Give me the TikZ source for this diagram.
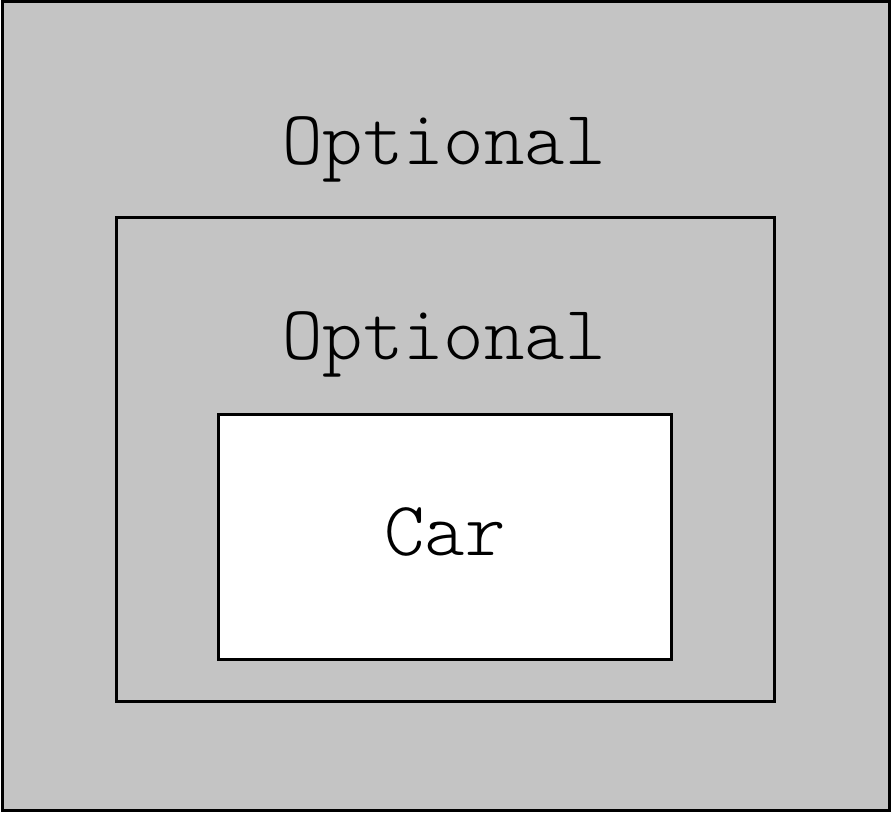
\documentclass[tikz,border=0pt]{standalone}
\usepackage{tikz}
\usetikzlibrary{positioning}
\definecolor{PanelGray}{HTML}{C4C4C4}

\begin{document}
\begin{tikzpicture}[x=0.5pt, y=-0.5pt,
        frame/.style={draw=black, line width=1.5pt, fill=PanelGray, inner sep=0pt},
        core/.style={draw=black, line width=1.5pt, fill=white, inner sep=0pt},
        label/.style={font=\fontsize{38.5}{46}\ttfamily\fontseries{l}\selectfont, inner sep=0pt, anchor=base}]
        \useasboundingbox (0,0) rectangle (891,813);
        \node[frame, minimum width=443.5pt, minimum height=404pt] (outer) at (445.5,406) {};
        \node[frame, minimum width=329pt, minimum height=241.5pt] (middle) at (445,459.5) {};
        \node[core, minimum width=226.5pt, minimum height=122.5pt] (inner) at (444.5,537.5) {};
        \node[label] (optA) at (444,165) {Optional};
        \node[label] (optB) at (444,360) {Optional};
        \node[label] (car) at (445,556) {Car};
      \end{tikzpicture}
\end{document}
